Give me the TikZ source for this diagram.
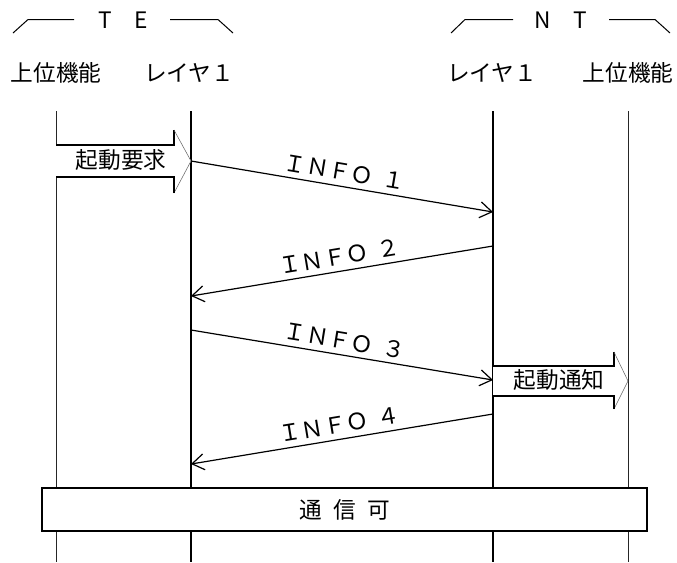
\documentclass[tikz,border=0pt]{standalone}
\usepackage{fontspec}
\newfontfamily\jp{Noto Sans CJK JP}
\usetikzlibrary{arrows.meta}
\begin{document}
\begin{tikzpicture}[x=0.75pt,y=-0.75pt,
  every node/.style={font=\jp\fontsize{17pt}{20pt}\selectfont, inner sep=0pt},
  life/.style={line width=0.8pt},
  outerlife/.style={line width=0.75pt, black!85},
  msg/.style={line width=0.9pt, -{Straight Barb[length=9pt,width=12pt,line width=0.9pt]}},
  msglabel/.style={midway, sloped, above=4pt},
  bracket/.style={line width=0.75pt},
  blockbody/.style={line width=0.9pt},
  blockhead/.style={line width=0.4pt, black!60},
  bar/.style={draw, fill=white, line width=0.9pt, minimum width=453.75pt, minimum height=32.25pt}]
\useasboundingbox (0,0) rectangle (677,562);
% headers
\node (te) at (123,20) {T\hspace{1.0em}E};
\node (nt) at (561,20) {N\hspace{1.0em}T};
\coordinate (te1) at (13,33); \coordinate (te2) at (28,19.5); \coordinate (te3) at (74,19.5);
\coordinate (te4) at (170,19.5); \coordinate (te5) at (218,19.5); \coordinate (te6) at (233,33);
\coordinate (nt1) at (451,33); \coordinate (nt2) at (465,19.5); \coordinate (nt3) at (513,19.5);
\coordinate (nt4) at (609,19.5); \coordinate (nt5) at (655,19.5); \coordinate (nt6) at (670,33);
\draw[bracket] (te1) -- (te2) -- (te3);
\draw[bracket] (te4) -- (te5) -- (te6);
\draw[bracket] (nt1) -- (nt2) -- (nt3);
\draw[bracket] (nt4) -- (nt5) -- (nt6);
% column labels
\node (h1) at (56,73) {上位機能};
\node (h2) at (189,73) {レイヤ１};
\node (h3) at (492,73) {レイヤ１};
\node (h4) at (628,73) {上位機能};
% lifelines
\coordinate (l1t) at (56,111);  \coordinate (l1b) at (56,562);
\coordinate (l2t) at (191,111); \coordinate (l2b) at (191,562);
\coordinate (l3t) at (493,111); \coordinate (l3b) at (493,562);
\coordinate (l4t) at (628,111); \coordinate (l4b) at (628,562);
\draw[outerlife] (l1t) -- (l1b);
\draw[life] (l2t) -- (l2b);
\draw[life] (l3t) -- (l3b);
\draw[outerlife] (l4t) -- (l4b);
% block arrow 起動要求
\coordinate (ka1) at (56,145); \coordinate (ka2) at (174,145); \coordinate (ka3) at (174,130);
\coordinate (ka4) at (191,161); \coordinate (ka5) at (174,193); \coordinate (ka6) at (174,177);
\coordinate (ka7) at (56,177);
\fill[white] (ka1) -- (ka2) -- (ka3) -- (ka4) -- (ka5) -- (ka6) -- (ka7) -- cycle;
\draw[blockbody] (ka1) -- (ka2) -- (ka3);
\draw[blockhead] (ka3) -- (ka4) -- (ka5);
\draw[blockbody] (ka5) -- (ka6) -- (ka7);
\node (kidou) at (121,160) {起動要求};
% block arrow 起動通知
\coordinate (kb1) at (493,366); \coordinate (kb2) at (614,366); \coordinate (kb3) at (614,352);
\coordinate (kb4) at (628,381); \coordinate (kb5) at (614,409); \coordinate (kb6) at (614,396);
\coordinate (kb7) at (493,396);
\fill[white] (kb1) -- (kb2) -- (kb3) -- (kb4) -- (kb5) -- (kb6) -- (kb7) -- cycle;
\draw[blockbody] (kb1) -- (kb2) -- (kb3);
\draw[blockhead] (kb3) -- (kb4) -- (kb5);
\draw[blockbody] (kb5) -- (kb6) -- (kb7);
\node (tsuchi) at (559,380) {起動通知};
% messages
\coordinate (m1s) at (191,161); \coordinate (m1e) at (493,212);
\coordinate (m2s) at (493,246); \coordinate (m2e) at (191,296);
\coordinate (m3s) at (191,330); \coordinate (m3e) at (493,380);
\coordinate (m4s) at (493,414); \coordinate (m4e) at (191,464);
\draw[msg] (m1s) -- node[msglabel] (i1) {ＩＮＦＯ\hspace{0.4em}１} (m1e);
\draw[msg] (m2s) -- node[msglabel] (i2) {ＩＮＦＯ\hspace{0.4em}２} (m2e);
\draw[msg] (m3s) -- node[msglabel] (i3) {ＩＮＦＯ\hspace{0.4em}３} (m3e);
\draw[msg] (m4s) -- node[msglabel] (i4) {ＩＮＦＯ\hspace{0.4em}４} (m4e);
% 通信可
\node[bar] (kanou) at (344.5,509.5) {通\hspace{0.5em}信\hspace{0.5em}可};
\end{tikzpicture}
\end{document}
